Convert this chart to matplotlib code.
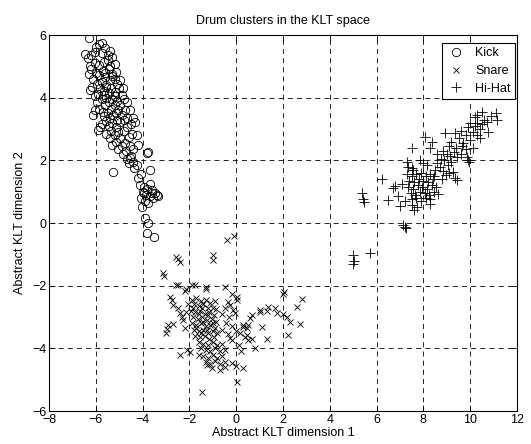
import numpy as np
import matplotlib
matplotlib.use("Agg")
import matplotlib.pyplot as plt

plt.rcParams['font.family'] = ['Liberation Sans', 'DejaVu Sans']

title = "Drum clusters in the KLT space"
xlabel = "Abstract KLT dimension 1"
ylabel = "Abstract KLT dimension 2"
series_names = ["Kick", "Snare", "Hi-Hat"]
x_ticks = [-8, -6, -4, -2, 0, 2, 4, 6, 8, 10, 12]
y_ticks = [-6, -4, -2, 0, 2, 4, 6]

kick_pts = [
    (-6.28, 5.91), (-5.85, 5.70), (-6.0, 5.62), (-5.6, 5.58), (-5.72, 5.75),
    (-5.39, 5.49), (-6.32, 5.27), (-6.45, 5.38), (-6.2, 5.35), (-5.32, 5.31), (-5.75, 5.42), (-5.5, 5.36), (-6.05, 5.45),
    (-6.05, 5.12), (-5.5, 5.2), (-5.85, 5.05), (-5.2, 5.08), (-5.65, 5.15), (-6.25, 5.0), (-5.4, 5.0),
    (-6.2, 4.92), (-5.7, 4.85), (-5.45, 4.9), (-6.0, 4.8), (-5.3, 4.75), (-5.85, 4.72), (-5.6, 4.78), (-5.15, 4.82), (-6.3, 4.75),
    (-5.6, 4.65), (-6.1, 4.6), (-5.4, 4.55), (-5.2, 4.6), (-5.75, 4.5), (-5.95, 4.45), (-5.55, 4.42), (-5.1, 4.45), (-5.3, 4.68), (-4.95, 4.55),
    (-6.15, 4.35), (-5.35, 4.3), (-5.8, 4.3), (-5.0, 4.32), (-4.84, 4.3), (-5.65, 4.2), (-5.45, 4.15), (-5.9, 4.12), (-5.2, 4.18), (-6.25, 4.24), (-5.55, 4.35),
    (-6.05, 4.05), (-4.9, 4.1), (-5.55, 4.0), (-5.3, 3.95), (-5.75, 3.95), (-5.1, 3.9), (-4.8, 3.95), (-5.95, 3.85), (-5.45, 3.85), (-5.65, 4.08), (-5.2, 4.05), (-4.65, 3.85),
    (-5.6, 3.75), (-5.2, 3.75), (-4.95, 3.75), (-5.85, 3.65), (-5.35, 3.65), (-5.05, 3.6), (-4.75, 3.6), (-5.7, 3.55), (-5.5, 3.5), (-4.54, 3.6), (-6.03, 3.6), (-5.15, 3.52),
    (-5.25, 3.45), (-4.9, 3.45), (-6.1, 3.45), (-5.65, 3.4), (-5.4, 3.35), (-5.1, 3.3), (-4.65, 3.35), (-4.41, 3.35), (-5.55, 3.25), (-5.3, 3.2), (-4.95, 3.22), (-4.32, 3.23), (-4.8, 3.28),
    (-5.75, 3.15), (-5.45, 3.1), (-5.15, 3.05), (-4.5, 3.15), (-5.82, 3.07), (-5.89, 2.96), (-5.35, 2.95), (-5.05, 2.9), (-4.8, 2.95), (-4.65, 3.05),
    (-5.55, 2.85), (-5.2, 2.8), (-4.25, 2.81), (-4.6, 2.75), (-5.4, 2.7), (-4.95, 2.7), (-5.15, 2.6), (-4.45, 2.85),
    (-4.75, 2.55), (-5.3, 2.5), (-4.9, 2.45), (-4.55, 2.45), (-5.05, 2.35), (-4.7, 2.3), (-4.4, 2.35), (-4.85, 2.2), (-3.76, 2.25), (-3.82, 2.22), (-4.2, 2.5),
    (-4.5, 2.15), (-4.65, 2.05), (-4.54, 2.07), (-4.4, 1.95), (-4.25, 1.85), (-4.6, 1.9),
    (-4.35, 1.75), (-5.25, 1.63), (-3.68, 1.69), (-4.05, 1.55), (-4.2, 1.45),
    (-4.1, 1.2), (-3.95, 1.15), (-3.8, 1.1), (-3.6, 1.05), (-3.45, 0.95), (-3.34, 0.85), (-4.0, 1.0), (-3.85, 0.9),
    (-3.7, 0.85), (-3.55, 0.8), (-4.05, 0.8), (-3.9, 0.7), (-3.75, 0.65), (-3.6, 0.95), (-4.04, 0.51), (-3.9, 0.15),
    (-3.77, 0.0), (-3.8, -0.33), (-3.51, -0.44), (-3.7, 1.25), (-3.4, 0.9), (-3.95, 0.95),
]

snare_pts = [
    (-2.57, -1.10), (-2.40, -1.24), (-2.5, -1.15), (-1.0, -1.03), (-0.98, -1.19), (-3.12, -1.59), (-3.1, -1.7), (-0.4, -0.55), (-0.1, -0.42),
    (-2.57, -1.97), (-2.5, -1.98), (-2.19, -2.17), (-2.15, -2.12), (-1.9, -1.97), (-1.76, -1.97), (-1.29, -2.04), (-1.3, -2.1), (-0.48, -2.04), (2.01, -2.25), (2.05, -2.2),
    (-2.83, -2.37), (-2.75, -2.45), (-2.7, -2.63), (-2.49, -2.72), (-2.4, -2.88), (-2.91, -3.26), (-2.95, -3.38), (-3.0, -3.5), (-2.69, -3.23),
    (-2.27, -3.1), (-2.19, -3.36), (-2.4, -4.22), (-2.1, -4.06), (-1.97, -4.13), (-2.3, -3.0), (-2.15, -2.85), (-2.05, -2.6),
    (-1.9, -2.45), (-1.7, -2.4), (-1.5, -2.5), (-1.3, -2.45), (-1.1, -2.55), (-0.9, -2.5), (-1.8, -2.6), (-1.6, -2.65), (-1.4, -2.6), (-1.2, -2.7),
    (-1.0, -2.7), (-0.85, -2.75), (-1.95, -2.8), (-1.75, -2.85), (-1.55, -2.8), (-1.35, -2.9), (-1.15, -2.85), (-0.95, -2.95), (-1.85, -3.0),
    (-1.65, -3.05), (-1.45, -3.0), (-1.25, -3.1), (-1.05, -3.05), (-0.85, -3.15), (-1.9, -3.2), (-1.7, -3.25), (-1.5, -3.2), (-1.3, -3.3),
    (-1.1, -3.25), (-0.9, -3.35), (-1.8, -3.4), (-1.6, -3.45), (-1.4, -3.4), (-1.2, -3.5), (-1.0, -3.45), (-0.8, -3.5), (-1.75, -3.6),
    (-1.55, -3.65), (-1.35, -3.6), (-1.15, -3.7), (-0.95, -3.65), (-1.6, -2.9), (-1.4, -3.15), (-1.2, -2.95), (-1.7, -3.35), (-1.0, -3.2),
    (-1.5, -3.5), (-1.85, -2.7), (-1.45, -2.7), (-1.25, -3.4),
    (-1.6, -3.8), (-1.4, -3.85), (-1.2, -3.9), (-1.0, -3.8), (-0.8, -3.9), (-0.6, -3.85), (-1.5, -4.0), (-1.3, -4.05), (-1.1, -4.1),
    (-0.9, -4.0), (-0.7, -4.1), (-0.5, -4.05), (-1.6, -4.2), (-1.4, -4.25), (-1.2, -4.3), (-1.0, -4.2), (-0.8, -4.3), (-0.6, -4.25),
    (-1.3, -4.45), (-1.1, -4.5), (-0.9, -4.4), (-0.7, -4.5), (-0.5, -4.45), (-1.26, -4.54), (-1.05, -4.64), (-0.7, -4.7), (-0.5, -4.6),
    (-0.2, -2.25), (0.04, -2.37), (0.05, -2.47), (-0.35, -2.53), (-0.26, -2.63), (-0.13, -2.79), (-0.05, -2.88), (-0.5, -2.7), (-0.6, -2.9),
    (-0.3, -3.0), (-0.45, -3.2), (-0.2, -3.3), (-0.6, -3.4), (-0.35, -3.55), (-0.26, -3.68), (-0.2, -3.74), (0.0, -3.45), (0.16, -3.52),
    (0.29, -3.26), (0.46, -3.36), (0.38, -3.65), (0.5, -3.74), (0.1, -3.9), (0.2, -4.1), (-0.18, -4.48), (0.0, -4.55), (0.29, -4.64),
    (0.02, -5.08), (-1.48, -5.4),
    (1.02, -2.79), (1.36, -2.69), (1.3, -2.8), (1.66, -2.72), (1.74, -2.88), (2.59, -2.68), (2.8, -2.44), (2.73, -3.21), (2.0, -2.9),
    (2.15, -3.0), (2.3, -3.17), (2.23, -3.58), (0.66, -2.95), (0.59, -3.04), (1.09, -3.32), (1.3, -3.69), (0.45, -3.58), (0.66, -3.69),
    (0.8, -4.0), (0.29, -3.32), (0.5, -3.26), (1.02, -2.84),
]

hihat_pts = [
    (5.0, -1.03), (5.05, -1.2), (5.0, -1.32), (5.72, -0.95), (7.13, -0.07), (7.2, -0.12), (7.26, -0.17),
    (5.36, 0.95), (5.42, 0.78), (5.46, 0.67), (6.22, 1.41), (6.5, 0.73), (6.7, 1.13), (6.79, 1.18),
    (7.5, 2.4), (8.07, 2.76), (8.35, 2.59), (8.28, 2.38),
    (7.3, 1.55), (7.5, 1.5), (7.7, 1.55), (7.9, 1.6), (8.1, 1.5), (8.3, 1.55), (7.4, 1.35), (7.6, 1.3), (7.8, 1.4),
    (8.0, 1.35), (8.2, 1.3), (8.4, 1.4), (7.35, 1.15), (7.55, 1.1), (7.75, 1.2), (7.95, 1.15), (8.15, 1.1), (8.35, 1.2),
    (8.55, 1.15), (7.45, 0.95), (7.65, 0.9), (7.85, 1.0), (8.05, 0.95), (8.25, 0.9), (8.45, 1.0), (7.5, 0.75), (7.7, 0.8),
    (7.9, 0.7), (8.1, 0.8), (8.3, 0.75), (8.64, 0.94), (8.28, 0.62), (7.5, 0.57), (7.6, 0.41), (7.71, 0.5), (7.2, 0.7),
    (7.0, 0.55), (6.9, 0.85), (7.1, 1.25), (7.29, 1.95), (7.34, 1.79), (7.52, 1.75), (7.56, 1.69), (7.85, 2.0), (8.0, 1.9), (8.15, 1.85),
    (8.7, 1.78), (8.85, 1.65), (8.97, 1.53), (9.27, 1.63), (9.35, 1.45), (9.44, 1.37), (8.5, 1.7), (8.6, 1.9), (8.75, 2.05),
    (8.9, 2.0), (9.05, 1.85), (9.2, 1.95), (8.84, 2.3), (9.0, 2.2), (9.15, 2.15), (9.3, 2.25), (9.44, 2.1), (9.6, 2.2),
    (9.1, 2.45), (8.6, 2.2), (8.45, 1.5), (8.8, 1.4), (9.1, 1.6), (9.9, 2.0), (9.86, 2.11), (9.95, 1.95),
    (8.92, 2.86), (9.35, 2.88), (9.2, 2.6), (9.5, 2.7), (9.7, 2.55), (9.6, 2.95), (9.8, 2.8), (10.0, 2.65), (9.9, 3.05),
    (10.1, 2.9), (10.3, 2.8), (10.0, 3.2), (10.2, 3.1), (10.4, 3.0), (10.2, 3.38), (10.29, 3.19), (10.49, 3.55), (10.6, 3.3),
    (10.7, 3.23), (10.76, 2.91), (10.5, 3.15), (10.3, 3.45), (11.1, 3.5), (11.15, 3.28), (10.9, 3.4), (10.1, 2.4), (9.8, 2.35),
    (10.4, 2.7), (9.4, 2.4), (9.65, 2.45),
]

kick = np.array(kick_pts)
snare = np.array(snare_pts)
hihat = np.array(hihat_pts)

fig = plt.figure(figsize=(5.31, 4.44), dpi=100)
ax = fig.add_axes([49/531, 33/444, 468/531, 376/444])

ax.plot(kick[:, 0], kick[:, 1], linestyle='none', marker='o', markersize=6,
        markerfacecolor='none', markeredgecolor='black', markeredgewidth=0.6, label=series_names[0])
ax.plot(snare[:, 0], snare[:, 1], linestyle='none', marker='x', markersize=4.5,
        color='black', markeredgewidth=0.6, label=series_names[1])
ax.plot(hihat[:, 0], hihat[:, 1], linestyle='none', marker='+', markersize=7,
        color='black', markeredgewidth=0.6, label=series_names[2])

ax.set_xlim(-8, 12)
ax.set_ylim(-6, 6)
ax.set_xticks(x_ticks)
ax.set_yticks(y_ticks)
ax.tick_params(direction='in', top=True, right=True, length=4, width=0.6,
               labelsize=9, pad=2)
for s in ax.spines.values():
    s.set_linewidth(0.8)
ax.grid(True, color='black', linestyle=(0, (6, 5)), linewidth=0.6)
ax.set_axisbelow(True)

ax.set_title(title, fontsize=9, pad=8)
ax.set_xlabel(xlabel, fontsize=9, labelpad=1)
ax.set_ylabel(ylabel, fontsize=9, labelpad=4)

leg = ax.legend(loc='upper right', bbox_to_anchor=((515-49)/468, 1 - 8/376),
                borderaxespad=0, fancybox=False, framealpha=1, edgecolor='black',
                fontsize=9, handlelength=1.5, handletextpad=0.8, labelspacing=0.45,
                borderpad=0.35)
leg.get_frame().set_linewidth(0.8)

fig.savefig("out.png", dpi=100)
